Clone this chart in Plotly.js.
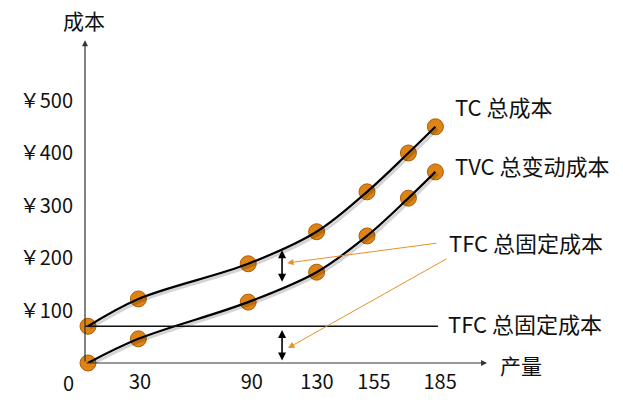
<!DOCTYPE html>
<html>
<head>
<meta charset="utf-8">
<script src="https://cdn.plot.ly/plotly-3.0.1.min.js"></script>
<style>html,body{margin:0;padding:0;background:#fff;}#chart{width:623px;height:409px;}</style>
</head>
<body>
<div id="chart"></div>
<script>
// Positions of output along the (hand-drawn, non-uniform) quantity axis
var qtyPos = [0, 28, 89, 127, 155, 178, 193];
var tcValues = [70, 122, 189, 250, 326, 400, 450];
var tvcValues = [0, 46, 116, 173, 242, 314, 364];
var tfcValue = 70;
var tfcX = [-1.67, 194.4];
var xTickPos = [28.9, 91, 127.2, 158.9, 195.6];
var xTickLabels = ['30', '90', '130', '155', '185'];
var yTickVals = [100, 200, 300, 400, 500];
var yTickLabels = ['￥100', '￥200', '￥300', '￥400', '￥500'];
var seriesNames = ['TC 总成本', 'TVC 总变动成本', 'TFC 总固定成本'];

var FONT = '"Noto Sans CJK SC", "Noto Sans", sans-serif';
var ORANGE = '#DD8414';
var ORANGE_EDGE = '#A8600C';
var INK = '#111';

function shadow(arr, dx, dy) {
  return {
    x: qtyPos.map(function (v) { return v + dx; }),
    y: arr.map(function (v) { return v + dy; }),
    mode: 'lines', line: {shape: 'spline', smoothing: 1, color: 'rgba(0,0,0,0.17)', width: 3},
    hoverinfo: 'skip', showlegend: false, cliponaxis: false
  };
}
function markers(arr) {
  return {
    x: qtyPos, y: arr, mode: 'markers',
    marker: {size: 16, color: ORANGE, line: {color: ORANGE_EDGE, width: 1}},
    showlegend: false, cliponaxis: false
  };
}
function curve(arr, name) {
  return {
    x: qtyPos, y: arr, name: name, mode: 'lines',
    line: {shape: 'spline', smoothing: 1, color: '#000', width: 2.2},
    showlegend: false, cliponaxis: false
  };
}

var traces = [
  markers(tcValues), markers(tvcValues),
  shadow(tcValues, 1.2, -4), shadow(tvcValues, 1.2, -4),
  curve(tcValues, seriesNames[0]), curve(tvcValues, seriesNames[1]),
  {x: tfcX, y: [tfcValue, tfcValue], name: seriesNames[2], mode: 'lines',
   line: {color: '#111', width: 1.6}, showlegend: false, cliponaxis: false}
];

var txt = {family: FONT, size: 22, color: INK};
var annotations = [
  // axes with arrowheads
  {x: -1.67, y: 615, ax: -1.67, ay: 0, axref: 'x', ayref: 'y', xref: 'x', yref: 'y', text: '',
   showarrow: true, arrowhead: 2, arrowsize: 1, arrowwidth: 1.2, arrowcolor: '#333'},
  {x: 221.7, y: 0, ax: -1.67, ay: 0, axref: 'x', ayref: 'y', xref: 'x', yref: 'y', text: '',
   showarrow: true, arrowhead: 2, arrowsize: 1, arrowwidth: 1.2, arrowcolor: '#333'},
  // double arrows
  {x: 107.8, y: 215, ax: 107.8, ay: 152, axref: 'x', ayref: 'y', xref: 'x', yref: 'y', text: '',
   showarrow: true, arrowhead: 2, startarrowhead: 2, arrowside: 'end+start', arrowsize: 1, arrowwidth: 1.6, arrowcolor: '#000'},
  {x: 107.8, y: 63, ax: 107.8, ay: 2, axref: 'x', ayref: 'y', xref: 'x', yref: 'y', text: '',
   showarrow: true, arrowhead: 2, startarrowhead: 2, arrowside: 'end+start', arrowsize: 1, arrowwidth: 1.6, arrowcolor: '#000'},
  // orange pointer arrows
  {x: 110.6, y: 190.5, ax: 194.4, ay: 228.6, axref: 'x', ayref: 'y', xref: 'x', yref: 'y', text: '',
   showarrow: true, arrowhead: 2, arrowsize: 1.3, arrowwidth: 1, arrowcolor: '#E8912C'},
  {x: 111.1, y: 28.6, ax: 200, ay: 200, axref: 'x', ayref: 'y', xref: 'x', yref: 'y', text: '',
   showarrow: true, arrowhead: 2, arrowsize: 1.3, arrowwidth: 1, arrowcolor: '#E8912C'},
  // series labels
  {x: 202.8, y: 489.5, xref: 'x', yref: 'y', xanchor: 'left', yanchor: 'middle', text: seriesNames[0], showarrow: false, font: txt},
  {x: 202.8, y: 377, xref: 'x', yref: 'y', xanchor: 'left', yanchor: 'middle', text: seriesNames[1], showarrow: false, font: txt},
  {x: 199.5, y: 230.5, xref: 'x', yref: 'y', xanchor: 'left', yanchor: 'middle', text: seriesNames[2], showarrow: false, font: txt},
  {x: 199, y: 76.2, xref: 'x', yref: 'y', xanchor: 'left', yanchor: 'middle', text: seriesNames[2], showarrow: false, font: txt},
  // axis titles and origin
  {x: (84 - 85) / 538, y: (363 - 20) / 363, xref: 'paper', yref: 'paper', xanchor: 'center', yanchor: 'middle',
   text: '成本', showarrow: false, font: {family: FONT, size: 21, color: INK}},
  {x: (498 - 85) / 538, y: (363 - 365) / 363, xref: 'paper', yref: 'paper', xanchor: 'left', yanchor: 'middle',
   text: '产量', showarrow: false, font: {family: FONT, size: 21, color: INK}},
  {x: (68 - 85) / 538, y: (363 - 382) / 363, xref: 'paper', yref: 'paper', xanchor: 'center', yanchor: 'middle',
   text: '0', showarrow: false, font: {family: FONT, size: 20, color: INK}}
];

var layout = {
  width: 623, height: 409,
  margin: {l: 85, r: 0, t: 0, b: 46, pad: 0},
  paper_bgcolor: '#fff', plot_bgcolor: '#fff',
  font: {family: FONT, size: 20, color: INK},
  showlegend: false,
  xaxis: {range: [-1.67, -1.67 + 538 / 1.8], showgrid: false, zeroline: false, showline: false,
          tickmode: 'array', tickvals: xTickPos, ticktext: xTickLabels, ticks: '',
          tickfont: {family: FONT, size: 20, color: INK}, ticklabelstandoff: 5, fixedrange: true},
  yaxis: {range: [0, 363 / 0.525], showgrid: false, zeroline: false, showline: false,
          tickmode: 'array', tickvals: yTickVals, ticktext: yTickLabels, ticks: '',
          tickfont: {family: FONT, size: 20, color: INK}, ticklabelstandoff: 11, fixedrange: true},
  annotations: annotations
};

Plotly.newPlot('chart', traces, layout, {displayModeBar: false, staticPlot: true});
</script>
</body>
</html>
